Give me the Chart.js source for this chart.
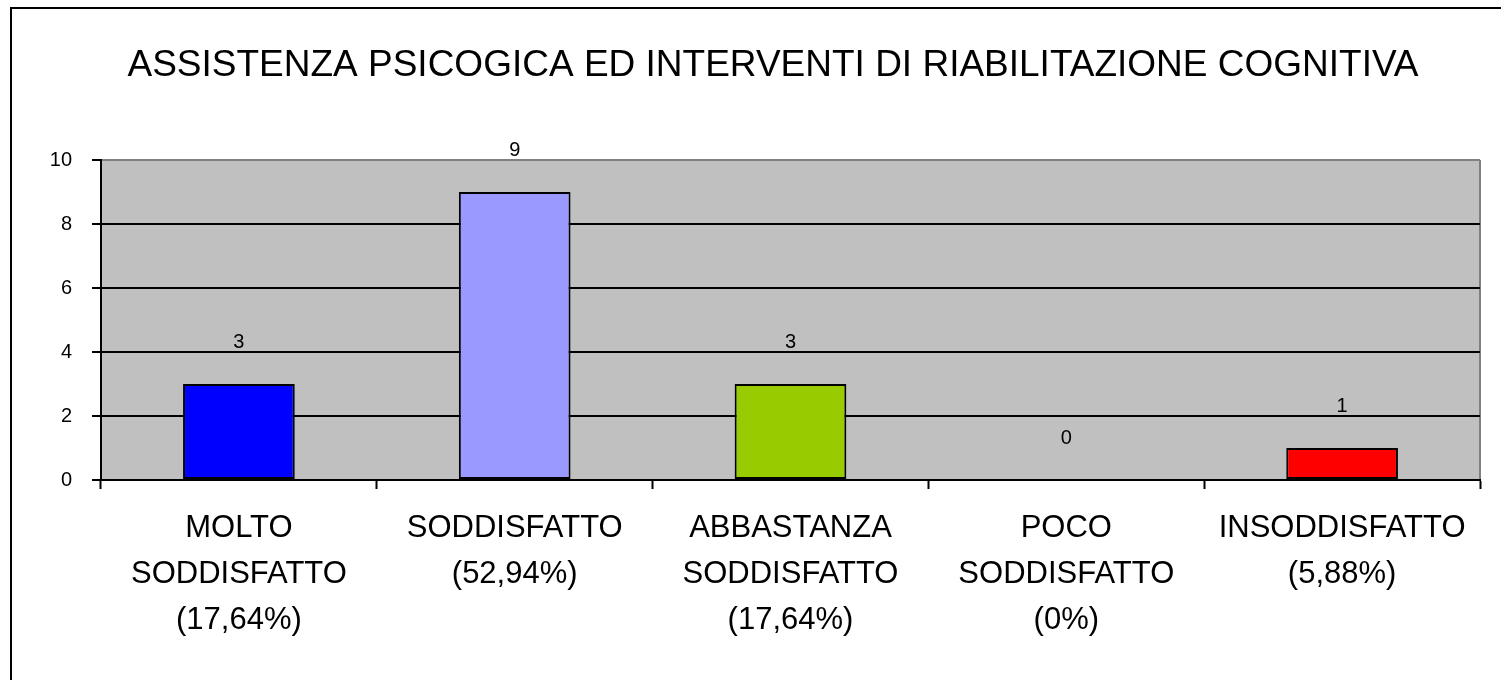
<!DOCTYPE html>
<html>
<head>
<meta charset="utf-8">
<script src="https://cdn.jsdelivr.net/npm/chart.js@4.4.0/dist/chart.umd.min.js"></script>
<style>
  body { margin: 0; background: #fff; }
  #wrap { width: 1501px; height: 680px; }
</style>
</head>
<body>
<div id="wrap"><canvas id="chart" width="1501" height="680"></canvas></div>
<script>
const titleText = "ASSISTENZA PSICOGICA ED INTERVENTI DI RIABILITAZIONE COGNITIVA";
const categories = [
  ["MOLTO", "SODDISFATTO", "(17,64%)"],
  ["SODDISFATTO", "(52,94%)"],
  ["ABBASTANZA", "SODDISFATTO", "(17,64%)"],
  ["POCO", "SODDISFATTO", "(0%)"],
  ["INSODDISFATTO", "(5,88%)"]
];
const counts = [3, 9, 3, 0, 1];
const barColors = ["#0000FF", "#9999FF", "#99CC00", "#C0C0C0", "#FF0000"];
const yTicks = [0, 2, 4, 6, 8, 10];

const FONT = "'Liberation Sans', Arial, sans-serif";
Chart.defaults.color = "#000";
Chart.defaults.font.family = FONT;

// grey plot background, outer frame and title (title sits a bit right of the plot centre)
const plotBg = {
  id: "plotBg",
  beforeDraw(chart) {
    const { ctx, chartArea: a } = chart;
    ctx.save();
    ctx.fillStyle = "#fff";
    ctx.fillRect(0, 0, chart.width, chart.height);
    ctx.fillStyle = "#C0C0C0";
    ctx.fillRect(a.left, a.top, a.right - a.left, a.bottom - a.top);
    ctx.strokeStyle = "#808080";
    ctx.lineWidth = 2;
    ctx.beginPath();
    ctx.moveTo(a.right, a.top);
    ctx.lineTo(a.right, a.bottom);
    ctx.stroke();

    ctx.font = "37px " + FONT;
    ctx.fillStyle = "#000";
    ctx.textAlign = "center";
    ctx.textBaseline = "middle";
    ctx.fillText(titleText, 773, 66);
    ctx.restore();
  },
  afterDraw(chart) {
    const ctx = chart.ctx;
    ctx.save();
    ctx.strokeStyle = "#000";
    ctx.lineWidth = 2;
    ctx.beginPath();
    ctx.moveTo(chart.width, 8);
    ctx.lineTo(11, 8);
    ctx.lineTo(11, chart.height);
    ctx.stroke();
    ctx.restore();
  }
};

// value labels above bars
const valueLabels = {
  id: "valueLabels",
  afterDatasetsDraw(chart) {
    const ctx = chart.ctx;
    const meta = chart.getDatasetMeta(0);
    ctx.save();
    ctx.font = "20px " + FONT;
    ctx.fillStyle = "#000";
    ctx.textAlign = "center";
    ctx.textBaseline = "middle";
    meta.data.forEach((bar, i) => {
      ctx.fillText(String(counts[i]), bar.x, bar.y - 42);
    });
    ctx.restore();
  }
};

new Chart(document.getElementById("chart"), {
  type: "bar",
  data: {
    labels: categories,
    datasets: [{
      data: counts,
      backgroundColor: barColors,
      borderColor: "#000",
      borderWidth: 2,
      borderSkipped: false,
      categoryPercentage: 1,
      barPercentage: 0.405
    }]
  },
  options: {
    responsive: false,
    animation: false,
    layout: { padding: { left: 0, right: 21, top: 160, bottom: 0 } },
    plugins: {
      legend: { display: false },
      tooltip: { enabled: false },
      title: { display: false }
    },
    scales: {
      x: {
        afterFit(s) { s.height = 200; },
        grid: {
          offset: true,
          drawOnChartArea: false,
          tickLength: 9,
          tickColor: "#000",
          tickWidth: 2
        },
        border: { color: "#000", width: 2 },
        ticks: {
          color: "#000",
          padding: 17,
          maxRotation: 0,
          autoSkip: false,
          font: { size: 31, family: FONT, lineHeight: 1.48 }
        }
      },
      y: {
        min: 0,
        max: 10,
        afterFit(s) { s.width = 101; },
        afterBuildTicks(s) { s.ticks = yTicks.map(v => ({ value: v })); },
        grid: {
          color: c => (c.tick && c.tick.value === 10 ? "#808080" : "#000"),
          lineWidth: 2,
          tickLength: 9,
          tickColor: "#000"
        },
        border: { color: "#000", width: 2 },
        ticks: {
          color: "#000",
          padding: 20,
          font: { size: 20, family: FONT }
        }
      }
    }
  },
  plugins: [plotBg, valueLabels]
});
</script>
</body>
</html>
